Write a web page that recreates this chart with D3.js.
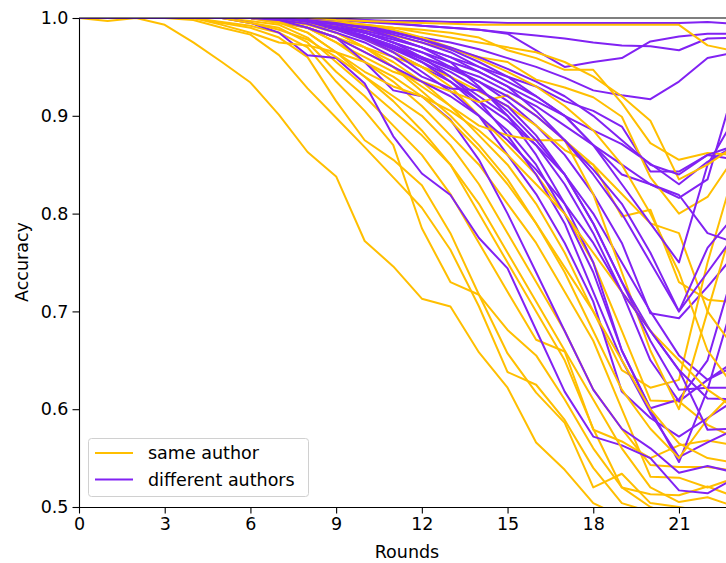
<!DOCTYPE html>
<html>
<head>
<meta charset="utf-8">
<script src="https://cdn.jsdelivr.net/npm/d3@7"></script>
<style>
  html, body { margin: 0; padding: 0; background: #fff; }
  svg { display: block; }
  text { font-family: "DejaVu Sans", sans-serif; }
</style>
</head>
<body>
<svg id="chart" width="726" height="563"></svg>
<script>
const rounds = d3.range(0, 24);
const xTicks = [0, 3, 6, 9, 12, 15, 18, 21];
const yTicks = [0.5, 0.6, 0.7, 0.8, 0.9, 1.0];
const seriesNames = ["same author", "different authors"];
const seriesColors = ["#ffbf00", "#8122f3"];

const sameAuthor = [
  [1,0.997,1,0.993,0.975,0.955,0.934,0.901,0.863,0.838,0.772,0.746,0.713,0.705,0.658,0.622,0.566,0.538,0.504,0.49,0.48,0.48,0.47,0.47],
  [1,1,1,1,0.998,0.99,0.983,0.962,0.928,0.898,0.868,0.837,0.806,0.763,0.705,0.638,0.625,0.589,0.54,0.504,0.495,0.49,0.49,0.49],
  [1,1,1,1,1,0.995,0.99,0.98,0.96,0.915,0.875,0.855,0.829,0.780,0.717,0.657,0.617,0.586,0.52,0.534,0.504,0.5,0.495,0.49],
  [1,1,1,1,1,0.996,0.992,0.985,0.97,0.935,0.905,0.87,0.785,0.730,0.717,0.681,0.655,0.61,0.56,0.52,0.50,0.49,0.49,0.48],
  [1,1,1,1,1,1,0.995,0.99,0.975,0.945,0.92,0.89,0.86,0.82,0.77,0.72,0.671,0.659,0.579,0.567,0.55,0.563,0.568,0.563],
  [1,1,1,1,1,1,0.997,0.993,0.98,0.955,0.93,0.905,0.88,0.85,0.80,0.75,0.70,0.65,0.58,0.52,0.513,0.512,0.521,0.51],
  [1,1,1,1,1,1,1,0.995,0.985,0.965,0.94,0.92,0.9,0.87,0.83,0.78,0.73,0.68,0.62,0.58,0.543,0.541,0.541,0.537],
  [1,1,1,1,1,1,1,0.997,0.99,0.975,0.955,0.935,0.91,0.88,0.85,0.81,0.77,0.72,0.67,0.6,0.531,0.53,0.52,0.53],
  [1,1,1,1,1,1,1,0.998,0.993,0.985,0.97,0.955,0.935,0.91,0.88,0.85,0.81,0.76,0.70,0.64,0.622,0.63,0.75,0.85],
  [1,1,1,1,1,1,1,1,0.995,0.99,0.98,0.965,0.95,0.93,0.9,0.87,0.84,0.80,0.75,0.68,0.609,0.608,0.584,0.57],
  [1,1,1,1,1,1,1,0.995,0.99,0.98,0.97,0.96,0.95,0.94,0.925,0.91,0.89,0.865,0.85,0.797,0.804,0.73,0.712,0.709],
  [1,1,1,1,1,1,1,1,1,0.998,0.997,0.996,0.995,0.994,0.993,0.993,0.993,0.993,0.993,0.993,0.993,0.993,0.972,0.966],
  [1,1,1,1,1,1,1,1,0.998,0.995,0.993,0.99,0.988,0.985,0.98,0.967,0.959,0.947,0.947,0.913,0.872,0.855,0.862,0.86],
  [1,1,1,1,1,1,1,1,0.997,0.993,0.988,0.982,0.975,0.968,0.96,0.955,0.937,0.929,0.919,0.899,0.837,0.80,0.817,0.86],
  [1,1,1,1,1,1,1,0.998,0.99,0.975,0.96,0.945,0.935,0.925,0.914,0.921,0.9,0.875,0.85,0.82,0.79,0.78,0.70,0.66],
  [1,1,1,1,1,1,1,0.997,0.99,0.98,0.965,0.95,0.93,0.91,0.89,0.88,0.875,0.875,0.82,0.74,0.66,0.60,0.70,0.80],
  [1,1,1,1,1,1,1,1,0.995,0.985,0.97,0.95,0.925,0.9,0.87,0.835,0.79,0.74,0.68,0.62,0.58,0.55,0.59,0.62],
  [1,1,1,1,1,1,1,1,0.999,0.997,0.993,0.988,0.98,0.97,0.958,0.945,0.93,0.91,0.885,0.85,0.80,0.74,0.66,0.62],
  [1,1,1,1,1,0.993,0.985,0.975,0.972,0.965,0.955,0.94,0.92,0.895,0.865,0.83,0.79,0.745,0.70,0.65,0.60,0.565,0.55,0.545],
  [1,1,1,1,1,1,0.995,0.988,0.978,0.96,0.94,0.915,0.885,0.85,0.81,0.76,0.71,0.66,0.61,0.56,0.52,0.505,0.51,0.5],
  [1,1,1,1,1,1,1,1,0.998,0.996,0.993,0.99,0.985,0.98,0.975,0.97,0.965,0.955,0.94,0.92,0.895,0.835,0.85,0.87],
  [1,1,1,1,1,1,1,0.996,0.985,0.965,0.945,0.93,0.92,0.905,0.885,0.86,0.83,0.80,0.76,0.72,0.68,0.65,0.62,0.6]
];

const differentAuthors = [
  [1,1,1,1,1,1,1,1,1,0.998,0.998,0.997,0.997,0.996,0.996,0.995,0.995,0.995,0.995,0.995,0.995,0.995,0.996,0.994],
  [1,1,1,1,1,1,1,1,1,0.998,0.996,0.994,0.992,0.99,0.988,0.984,0.967,0.950,0.955,0.959,0.976,0.981,0.984,0.984],
  [1,1,1,1,1,1,1,1,1,1,0.998,0.995,0.992,0.99,0.988,0.985,0.982,0.979,0.975,0.972,0.971,0.967,0.979,0.98],
  [1,1,1,1,1,1,1,1,0.998,0.995,0.99,0.985,0.98,0.975,0.968,0.959,0.95,0.939,0.926,0.921,0.917,0.935,0.959,0.965],
  [1,1,1,1,1,1,1,0.998,0.995,0.99,0.985,0.978,0.97,0.96,0.95,0.94,0.93,0.915,0.905,0.889,0.843,0.843,0.86,0.855],
  [1,1,1,1,1,1,1,1,0.997,0.993,0.985,0.975,0.965,0.955,0.945,0.93,0.915,0.9,0.885,0.871,0.851,0.830,0.853,0.87],
  [1,1,1,1,1,1,1,0.998,0.995,0.99,0.98,0.97,0.96,0.95,0.94,0.925,0.91,0.89,0.87,0.85,0.83,0.816,0.835,0.935],
  [1,1,1,1,1,1,1,1,0.997,0.993,0.985,0.975,0.965,0.95,0.935,0.915,0.89,0.86,0.82,0.77,0.698,0.693,0.725,0.76],
  [1,1,1,1,1,1,1,0.998,0.995,0.988,0.978,0.965,0.95,0.935,0.915,0.895,0.87,0.84,0.80,0.75,0.70,0.655,0.63,0.65],
  [1,1,1,1,1,1,1,1,0.996,0.99,0.98,0.968,0.955,0.94,0.92,0.9,0.87,0.83,0.78,0.72,0.65,0.608,0.63,0.645],
  [1,1,1,1,1,1,1,0.999,0.995,0.99,0.982,0.97,0.955,0.935,0.91,0.885,0.85,0.80,0.74,0.66,0.601,0.61,0.65,0.75],
  [1,1,1,1,1,1,1,1,0.996,0.99,0.98,0.965,0.945,0.925,0.9,0.86,0.82,0.77,0.71,0.618,0.591,0.572,0.591,0.61],
  [1,1,1,1,1,1,1,1,0.997,0.992,0.985,0.975,0.96,0.94,0.915,0.88,0.84,0.79,0.72,0.65,0.596,0.551,0.566,0.58],
  [1,1,1,1,1,1,1,1,0.998,0.995,0.99,0.98,0.97,0.955,0.93,0.9,0.86,0.81,0.75,0.66,0.60,0.546,0.62,0.72],
  [1,1,1,1,1,1,1,0.997,0.99,0.98,0.955,0.926,0.92,0.896,0.855,0.80,0.74,0.68,0.62,0.58,0.56,0.535,0.542,0.535],
  [1,1,1,1,1,1,0.995,0.985,0.962,0.959,0.933,0.879,0.841,0.819,0.775,0.744,0.681,0.618,0.572,0.563,0.55,0.517,0.514,0.53],
  [1,1,1,1,1,1,1,1,0.998,0.995,0.99,0.983,0.975,0.965,0.95,0.935,0.92,0.9,0.87,0.84,0.83,0.819,0.78,0.77],
  [1,1,1,1,1,1,1,1,0.997,0.993,0.987,0.98,0.97,0.96,0.945,0.93,0.905,0.875,0.84,0.80,0.75,0.70,0.765,0.80],
  [1,1,1,1,1,1,1,1,0.999,0.996,0.992,0.986,0.978,0.968,0.955,0.94,0.92,0.9,0.87,0.83,0.79,0.75,0.85,0.9],
  [1,1,1,1,1,1,1,0.998,0.994,0.985,0.975,0.96,0.94,0.928,0.926,0.91,0.88,0.84,0.79,0.73,0.67,0.62,0.622,0.622],
  [1,1,1,1,1,1,1,1,0.996,0.99,0.98,0.97,0.958,0.945,0.928,0.905,0.875,0.84,0.79,0.73,0.68,0.64,0.611,0.61],
  [1,1,1,1,1,1,1,0.998,0.99,0.98,0.965,0.95,0.935,0.92,0.9,0.875,0.845,0.81,0.77,0.72,0.68,0.64,0.579,0.58],
  [1,1,1,1,1,1,1,1,0.998,0.995,0.99,0.985,0.978,0.97,0.96,0.948,0.935,0.92,0.9,0.875,0.85,0.84,0.86,0.87],
  [1,1,1,1,1,1,1,1,0.997,0.99,0.982,0.972,0.96,0.948,0.935,0.92,0.9,0.875,0.845,0.81,0.76,0.70,0.74,0.78]
];

const svg = d3.select("#chart");
const padLeft = 79, padTop = 18, padBottom = 507;
const unit = 28.57;
const fontPx = 17.5;
const x = d3.scaleLinear().domain([0, 24]).range([padLeft, padLeft + 24 * unit]);
const y = d3.scaleLinear().domain([0.5, 1.0]).range([padBottom, padTop]);

svg.append("defs").append("clipPath").attr("id", "plotclip")
  .append("rect").attr("x", padLeft).attr("y", padTop)
  .attr("width", x(24) - padLeft).attr("height", padBottom - padTop);

const line = d3.line().x((d, i) => x(rounds[i])).y(d => y(d));
const plot = svg.append("g").attr("clip-path", "url(#plotclip)");

const n = Math.max(sameAuthor.length, differentAuthors.length);
for (let i = 0; i < n; i++) {
  if (i < sameAuthor.length) {
    plot.append("path").datum(sameAuthor[i]).attr("d", line)
      .attr("fill", "none").attr("stroke", seriesColors[0])
      .attr("stroke-width", 2).attr("stroke-linejoin", "round");
  }
  if (i < differentAuthors.length) {
    plot.append("path").datum(differentAuthors[i]).attr("d", line)
      .attr("fill", "none").attr("stroke", seriesColors[1])
      .attr("stroke-width", 2).attr("stroke-linejoin", "round");
  }
}

// axes
const xAxis = svg.append("g").attr("transform", `translate(0,${padBottom})`)
  .call(d3.axisBottom(x).tickValues(xTicks).tickFormat(d3.format("d")).tickSize(6.5).tickPadding(4).tickSizeOuter(0));
const yAxis = svg.append("g").attr("transform", `translate(${padLeft},0)`)
  .call(d3.axisLeft(y).tickValues(yTicks).tickFormat(d3.format(".1f")).tickSize(6.5).tickPadding(4).tickSizeOuter(0));
[xAxis, yAxis].forEach(g => {
  g.selectAll("text").attr("font-size", fontPx).attr("fill", "#000").attr("font-family", "DejaVu Sans, sans-serif");
  g.selectAll("line").attr("stroke", "#000").attr("stroke-width", 1.1);
  g.select(".domain").attr("stroke", "#000").attr("stroke-width", 1.1);
});
// top spine
svg.append("line").attr("x1", padLeft).attr("x2", x(24)).attr("y1", padTop).attr("y2", padTop)
  .attr("stroke", "#000").attr("stroke-width", 1.1);

// axis labels
svg.append("text").attr("x", 407).attr("y", 558).attr("text-anchor", "middle")
  .attr("font-size", fontPx).text("Rounds");
svg.append("text").attr("transform", "translate(28,262) rotate(-90)")
  .attr("text-anchor", "middle").attr("font-size", fontPx).text("Accuracy");

// legend
const lg = svg.append("g");
lg.append("rect").attr("x", 88.5).attr("y", 438.5).attr("width", 220).attr("height", 58)
  .attr("rx", 3).attr("fill", "#fff").attr("fill-opacity", 0.8)
  .attr("stroke", "#d0d0d0").attr("stroke-width", 1);
seriesNames.forEach((name, i) => {
  const ly = 453 + i * 26.5;
  lg.append("line").attr("x1", 95).attr("x2", 133).attr("y1", ly).attr("y2", ly)
    .attr("stroke", seriesColors[i]).attr("stroke-width", 2);
  lg.append("text").attr("x", 148).attr("y", ly + 6).attr("font-size", fontPx).text(name);
});
</script>
</body>
</html>
